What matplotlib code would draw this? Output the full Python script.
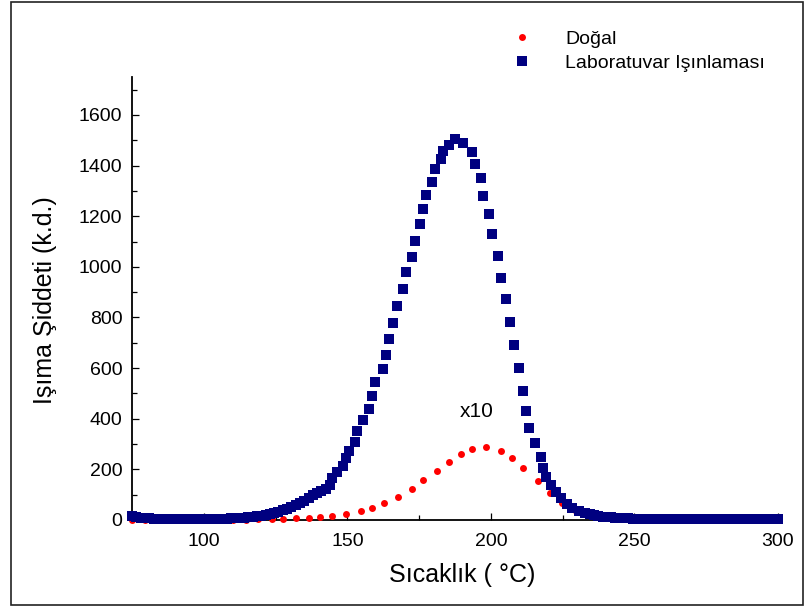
import matplotlib
matplotlib.use("Agg")
import matplotlib.pyplot as plt
from matplotlib.ticker import MultipleLocator
from matplotlib.patches import Rectangle

plt.rcParams['font.family'] = ['Liberation Sans', 'DejaVu Sans']

# Laboratory irradiation (blue squares)
lab_T = [75, 76.5, 78, 79.5, 81, 82.5, 84, 85.5, 87, 88.5, 90, 91.5, 93, 94.5, 96, 97.5, 99, 100.5,
         102, 103.5, 105, 106.5, 108, 109.5, 111, 112.5, 114, 115.5, 117, 118.5, 120, 121.5, 123,
         124.5, 126, 127.5, 129, 130.5, 132, 133.5, 135, 136.5, 138, 139.5, 141, 142.5,
         143.8, 144.8, 146.5, 148.6, 149.7, 150.7, 152.8, 153.5, 155.6, 157.6, 158.7, 159.7, 162.5,
         163.5, 164.6, 165.8, 167.4, 169.4, 170.5, 172.6, 173.6, 175.3, 176.4, 177.4, 179.5, 180.6,
         182.6, 183.3, 185.4, 187.4,
         190.4, 193.4, 194.4, 196.5, 197.2, 199.3, 200.3, 202.4, 203.5, 205.2, 206.7, 208.2, 209.7,
         211.2, 212.1, 213.3, 215.2, 217.5, 218.2, 219.3, 221.1, 222.7, 224.5, 226.5, 228.2, 230.6, 232.9,
         234.4, 235.9, 237.4, 238.9, 240.4, 241.9, 243.4, 244.9, 246.4, 247.9, 249.4, 250.9, 252.4,
         253.9, 255.4, 256.9, 258.4, 259.9, 261.4, 262.9, 264.4, 265.9, 267.4, 268.9, 270.4, 271.9,
         273.4, 274.9, 276.4, 277.9, 279.4, 280.9, 282.4, 283.9, 285.4, 286.9, 288.4, 289.9, 291.4,
         292.9, 294.4, 295.9, 297.4, 298.9, 300]
lab_I = [16, 12, 9, 7, 6, 5, 4, 4, 3, 3, 3, 3, 3, 3, 3, 3, 3, 3,
         4, 4, 4, 5, 5, 6, 7, 8, 9, 10, 12, 14, 17, 20, 24,
         28, 32, 38, 43, 50, 58, 67, 76, 86, 97, 105, 115, 124,
         140, 166, 190, 213, 245, 273, 308, 352, 395, 439, 490, 545, 597,
         652, 715, 778, 845, 913, 980, 1039, 1102, 1170, 1229, 1284, 1335, 1387,
         1426, 1458, 1482, 1506,
         1491, 1454, 1407, 1351, 1280, 1209, 1130, 1043, 956, 873, 782, 691, 601,
         511, 432, 362, 303, 250, 205, 169, 138, 112, 86, 63, 46, 36, 26,
         22, 18, 15, 13, 11, 10, 9, 8, 7, 6, 5, 5, 4,
         4, 4, 3, 3, 3, 3, 3, 3, 3, 3, 3, 3, 2,
         2, 2, 2, 2, 2, 2, 2, 2, 2, 2, 2, 2, 2,
         2, 2, 2, 2, 2, 2]

# Natural (red circles, x10)
nat_T = [75, 79.4, 83.8, 88.2, 92.6, 97, 101.4, 105.8, 110.2, 114.8, 118.9, 123.9, 127.5, 132,
         136.6, 140.6, 144.7, 149.5, 154.8, 158.6, 162.6, 167.6, 172.5, 176.4, 181.4, 185.4,
         189.5, 193.5, 198.3, 203.4, 207.4, 211.2, 216.5, 220.6, 224.8, 229.2, 233.6, 238,
         242.4, 246.8, 251.2, 255.6, 260, 264.4, 268.8, 273.2, 277.6, 282, 286.4, 290.8, 295.2, 299.6]
nat_I = [0, 0, 0, 0, 0, 0, 0, 0, 0, 0, 3, 3, 4, 8,
         9, 11, 16, 23, 36, 49, 68, 92, 122, 158, 194, 230,
         260, 279, 287, 274, 244, 207, 155, 105, 66, 38, 20, 10,
         5, 3, 2, 1, 0, 0, 0, 0, 0, 0, 0, 0, 0, 0]

x_ticks = [100, 150, 200, 250, 300]
y_ticks = [0, 200, 400, 600, 800, 1000, 1200, 1400, 1600]

fig = plt.figure(figsize=(8.06, 6.07), dpi=100)
fig.patch.set_facecolor('white')
fig.patches.append(Rectangle((11/806, 1-605/607), 792/806, 603/607, transform=fig.transFigure,
                             fill=False, edgecolor='#222222', linewidth=1.2))

ax = fig.add_axes([132/806, 87/607, 646/806, 443/607])
ax.plot(nat_T, nat_I, 'o', color='#FF0000', markersize=5, markeredgewidth=0,
        label='Doğal', clip_on=False, zorder=3)
ax.plot(lab_T, lab_I, 's', color='#000080', markersize=6.6, markeredgewidth=0,
        label='Laboratuvar Işınlaması', clip_on=False, zorder=4)

ax.set_xlim(75, 300)
ax.set_ylim(0, 1750)
ax.set_xticks(x_ticks)
ax.set_yticks(y_ticks)
ax.xaxis.set_minor_locator(MultipleLocator(25))
ax.yaxis.set_minor_locator(MultipleLocator(100))
for s in ['top', 'right']:
    ax.spines[s].set_visible(False)
for s in ['left', 'bottom']:
    ax.spines[s].set_linewidth(1.3)
ax.tick_params(axis='both', which='major', direction='in', length=5, width=0.9, labelsize=14)
ax.tick_params(axis='both', which='minor', direction='in', length=3.3, width=0.9)
ax.tick_params(axis='x', which='major', pad=9)
ax.tick_params(axis='y', which='major', pad=7)

ax.text(195.1, 427, 'x10', fontsize=15, ha='center', va='center')

fig.text(462/806, 1-575/607, 'Sıcaklık ( °C)', fontsize=18, ha='center', va='center')
fig.text(45/806, 1-300/607, 'Işıma Şiddeti (k.d.)', fontsize=18, ha='center', va='center',
         rotation=90)

ax.legend(loc='upper left', bbox_to_anchor=(512.3/806, 1-30/607), bbox_transform=fig.transFigure,
          frameon=False, fontsize=14, handlelength=1.0, handletextpad=1.72, labelspacing=0.33,
          borderpad=0, borderaxespad=0, markerscale=1.0)

fig.savefig('out.png', dpi=100, facecolor='white')
